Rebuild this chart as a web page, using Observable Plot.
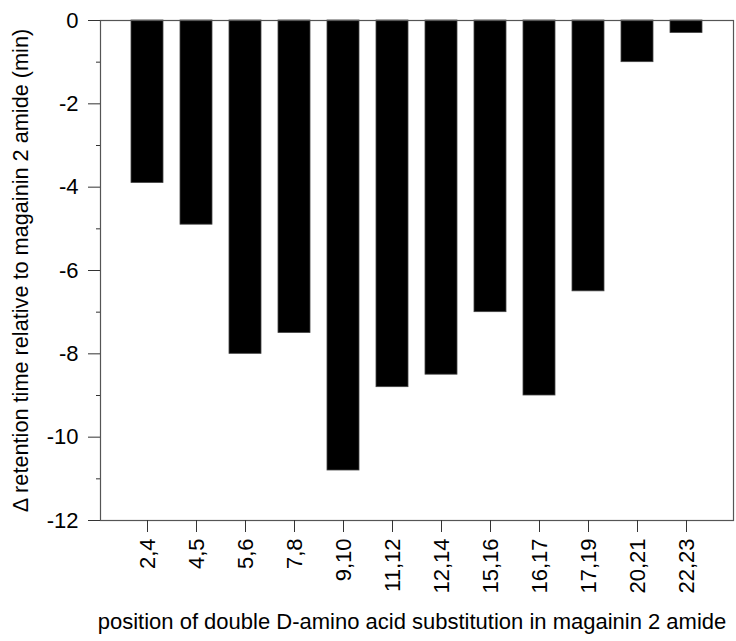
<!DOCTYPE html>
<html>
<head>
<meta charset="utf-8">
<script src="https://cdn.jsdelivr.net/npm/d3@7"></script>
<script src="https://cdn.jsdelivr.net/npm/@observablehq/plot@0.6"></script>
<style>
  html, body { margin: 0; padding: 0; background: #fff; }
  #chart svg { display: block; }
</style>
</head>
<body>
<div id="chart"></div>
<script>
const categories = ["2,4", "4,5", "5,6", "7,8", "9,10", "11,12", "12,14", "15,16", "16,17", "17,19", "20,21", "22,23"];
const values = [-3.9, -4.9, -8.0, -7.5, -10.8, -8.8, -8.5, -7.0, -9.0, -6.5, -1.0, -0.3];
const majorTicks = [0, -2, -4, -6, -8, -10, -12];
const minorTicks = [-1, -3, -5, -7, -9, -11];
const yLabel = "\u0394 retention time relative to magainin 2 amide (min)";
const xLabel = "position of double D-amino acid substitution in magainin 2 amide";

const data = categories.map((c, i) => ({pos: c, delta: values[i]}));
const font = "'Liberation Sans', Arial, sans-serif";

const chart = Plot.plot({
  width: 736,
  height: 641,
  marginLeft: 100,
  marginRight: 3,
  marginTop: 20,
  marginBottom: 121,
  style: {fontFamily: font, fontSize: "22px", color: "#000", background: "#fff"},
  x: {domain: categories, paddingInner: 0.35, paddingOuter: 0.57, label: null},
  y: {domain: [-12, 0], label: null},
  marks: [
    Plot.barY(data, {x: "pos", y: "delta", fill: "#000", stroke: "#444", strokeWidth: 0.8}),
    Plot.frame({stroke: "#555", strokeWidth: 1.2}),
    Plot.ruleX([0], {frameAnchor: "left", stroke: "#111", strokeWidth: 1.2}),
    Plot.axisY(majorTicks, {tickSize: 12, tickPadding: 10, fontSize: 22, stroke: "#333", tickFormat: d => d === 0 ? "0" : "-" + Math.abs(d), label: null}),
    Plot.axisY(minorTicks, {tickSize: 4, text: null, stroke: "#333", label: null}),
    Plot.axisX({tickSize: 12, tickRotate: -90, tickPadding: 6, fontSize: 22, stroke: "#333", label: null}),
    Plot.text([yLabel], {frameAnchor: "left", dx: -79, rotate: -90, fontSize: 21.7, textAnchor: "middle"}),
    Plot.text([xLabel], {frameAnchor: "bottom", dy: 108, fontSize: 22, textAnchor: "middle", dx: -5})
  ]
});
document.getElementById("chart").appendChild(chart);
</script>
</body>
</html>
